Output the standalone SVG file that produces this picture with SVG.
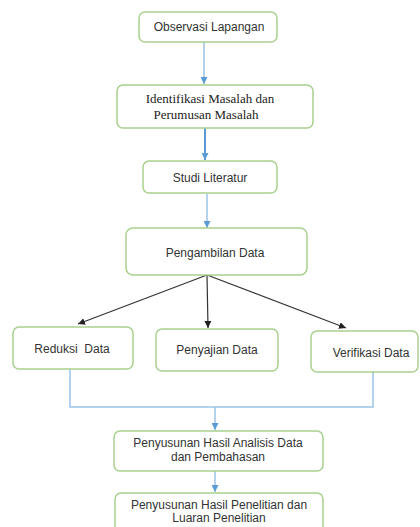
<svg xmlns="http://www.w3.org/2000/svg" width="420" height="527" viewBox="0 0 420 527">
<defs>
<style>
.box{fill:#fff;stroke:#a9d18e;stroke-width:1.5}
.t{font-family:"Liberation Sans",Arial,sans-serif;font-size:12px;fill:#333;text-anchor:middle}
.s{font-family:"Liberation Serif","Times New Roman",serif;font-size:13px;fill:#222;text-anchor:middle}
.bl{fill:none;stroke:#9dc3e6;stroke-width:1.5}
.bk{fill:none;stroke:#333;stroke-width:1.2}
</style>
<marker id="ab" viewBox="0 0 10 10" refX="10" refY="5" markerWidth="7" markerHeight="7" markerUnits="userSpaceOnUse" orient="auto"><path d="M0,0 L10,5 L0,10 z" fill="#5b9bd5"/></marker>
<marker id="ak" viewBox="0 0 10 10" refX="10" refY="5" markerWidth="7" markerHeight="7" markerUnits="userSpaceOnUse" orient="auto"><path d="M0,0 L10,5 L0,10 z" fill="#222"/></marker>
</defs>
<rect width="420" height="527" fill="#fff"/>
<g id="connectors">
<line class="bl" x1="204" y1="42" x2="204" y2="84" marker-end="url(#ab)"/>
<line x1="205" y1="128" x2="205" y2="160" stroke="#5b9bd5" stroke-width="2" marker-end="url(#ab)"/>
<line class="bl" x1="207" y1="194" x2="207" y2="228" marker-end="url(#ab)"/>
<line class="bk" x1="207" y1="275" x2="78" y2="324" marker-end="url(#ak)"/>
<line class="bk" x1="207" y1="275" x2="208" y2="328" marker-end="url(#ak)"/>
<line class="bk" x1="207" y1="275" x2="346" y2="328" marker-end="url(#ak)"/>
<path class="bl" d="M70 369 V407 H373 V372"/>
<line class="bl" x1="215" y1="407" x2="215" y2="430" marker-end="url(#ab)"/>
<line class="bl" x1="215" y1="471" x2="215" y2="492" marker-end="url(#ab)"/>
</g>
<g id="observasi"><rect class="box" x="139" y="12" width="138" height="30" rx="6"/><text class="t" x="209" y="31">Observasi Lapangan</text></g>
<g id="identifikasi"><rect class="box" x="117" y="85" width="196" height="43" rx="6"/><text class="s" x="210" y="103">Identifikasi Masalah dan</text><text class="s" x="206" y="119">Perumusan Masalah</text></g>
<g id="studi"><rect class="box" x="143" y="161" width="134" height="32" rx="6"/><text class="t" x="210" y="182">Studi Literatur</text></g>
<g id="pengambilan"><rect class="box" x="126" y="228" width="181" height="47" rx="7"/><text class="t" x="215" y="257">Pengambilan Data</text></g>
<g id="reduksi"><rect class="box" x="13" y="327" width="120" height="42" rx="6"/><text class="t" x="72" y="353" xml:space="preserve">Reduksi  Data</text></g>
<g id="penyajian"><rect class="box" x="156" y="329" width="122" height="42" rx="6"/><text class="t" x="217" y="354">Penyajian Data</text></g>
<g id="verifikasi"><rect class="box" x="311" y="331" width="107" height="41" rx="6"/><text class="t" x="371" y="357">Verifikasi Data</text></g>
<g id="analisis"><rect class="box" x="114" y="431" width="209" height="40" rx="6"/><text class="t" x="218" y="447">Penyusunan Hasil Analisis Data</text><text class="t" x="218" y="461">dan Pembahasan</text></g>
<g id="penelitian"><rect class="box" x="115" y="493" width="208" height="44" rx="6"/><text class="t" x="219" y="509">Penyusunan Hasil Penelitian dan</text><text class="t" x="219" y="522">Luaran Penelitian</text></g>
</svg>
